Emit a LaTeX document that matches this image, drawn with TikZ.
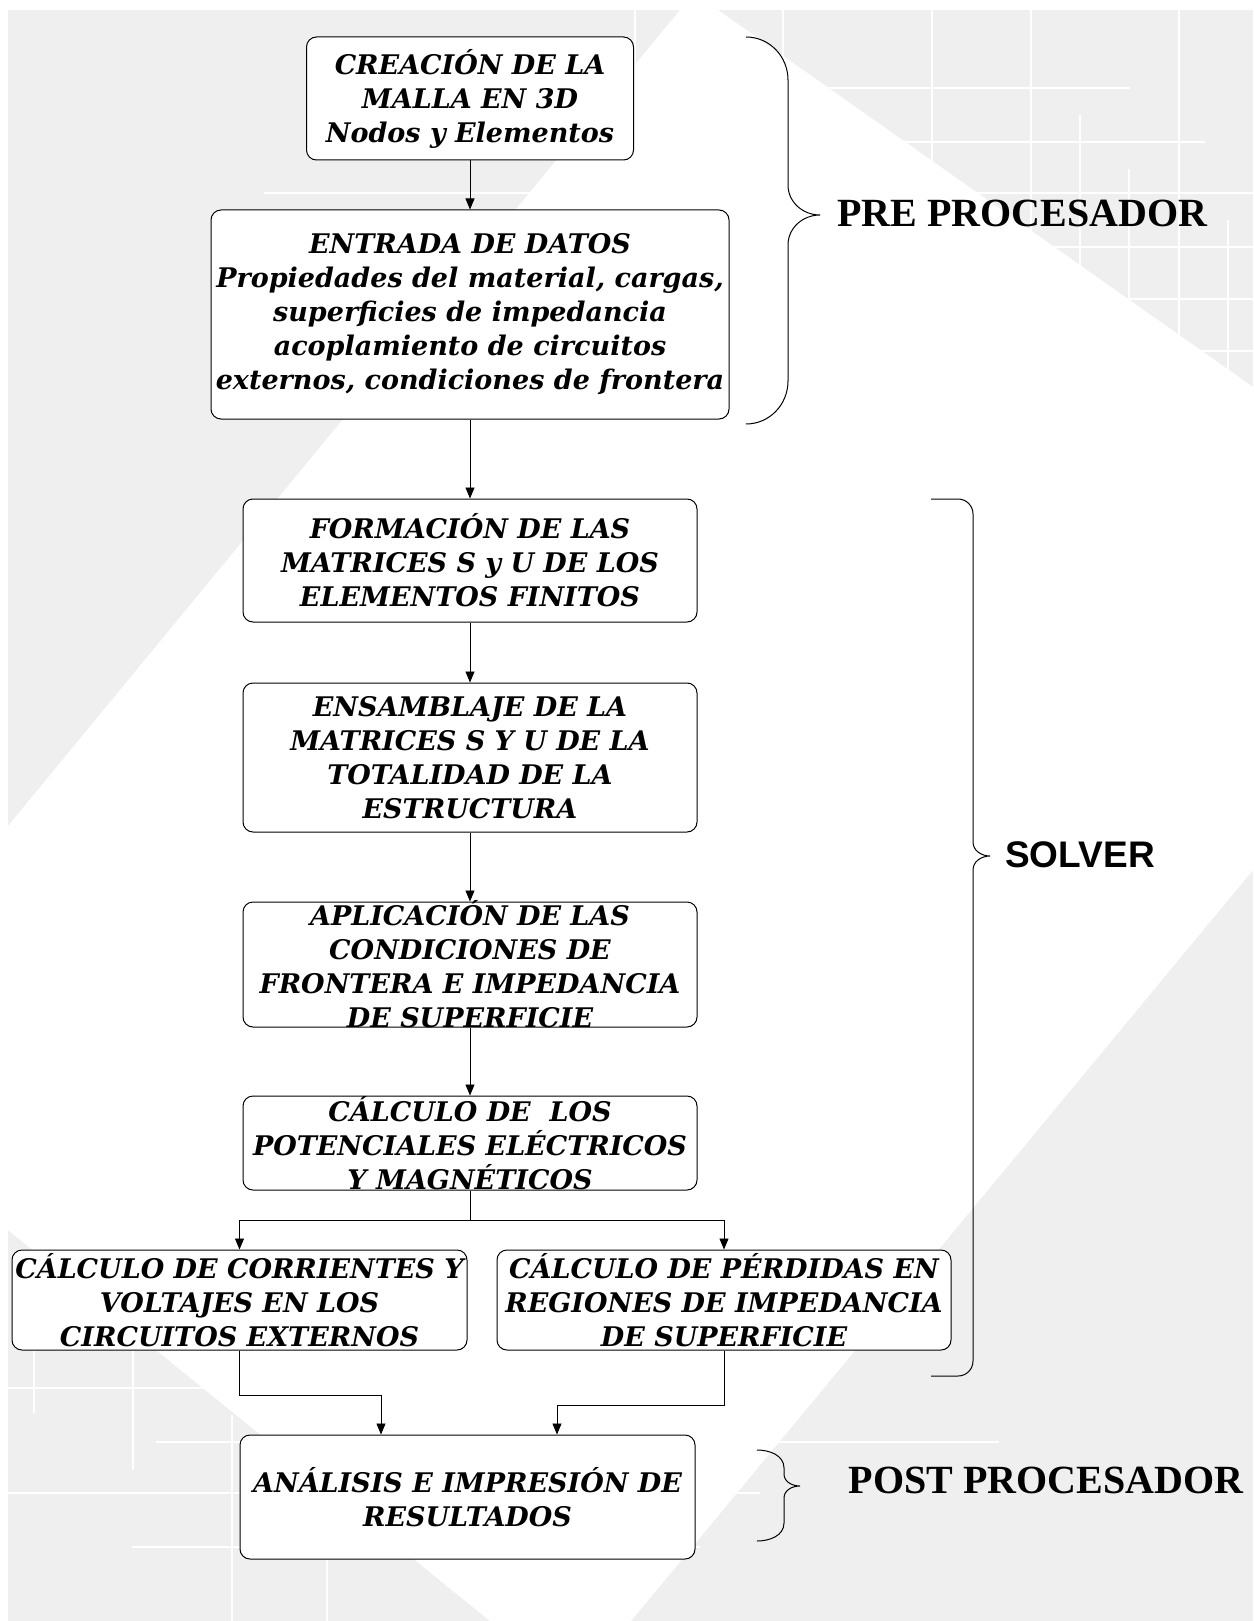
\documentclass[tikz,border=0pt]{standalone}
\usepackage{fontspec}
\setmainfont{DejaVu Serif}
\newfontfamily\phasefont{Liberation Serif}
\newfontfamily\solverfont{Liberation Sans}
\usetikzlibrary{calc}
\usetikzlibrary{arrows.meta}
\definecolor{bggray}{RGB}{239,239,239}

\begin{document}
\begin{tikzpicture}[%
  x=1pt, y=-1pt,
  >={Triangle[width=9pt,length=11pt]},
  box/.style={draw, line width=1pt, rounded corners=10pt, fill=white,
    align=center, inner xsep=0pt, inner ysep=-6pt,
    font=\fontsize{27}{34}\selectfont\bfseries\itshape},
  arr/.style={->, line width=0.9pt},
  gridline/.style={white, line width=1.5pt},
  brace/.style={line width=1pt},
  phase/.style={font=\phasefont\fontsize{40}{44}\selectfont\bfseries},
]

  \useasboundingbox (0,0) rectangle (1253,1621);

  % fondo
  \fill[bggray] (8,10) rectangle (1253,1621);
  \foreach \yy/\xa/\xb in {88/700/1130, 142/600/1205, 193/264/1253, 247/700/1253,
      299/700/1253, 351/700/1253, 404/700/1253,
      1388/8/823, 1442/156/999, 1493/8/760, 1547/132/700}
    \draw[gridline] (\xa,\yy) -- (\xb,\yy);
  \foreach \xx/\ya/\yb in {635/10/67, 783/10/120, 932/10/450, 1031/10/450,
      1080/115/450, 1129/169/450, 1179/10/450, 1228/220/450,
      34/1347/1413, 133/1340/1470, 232/1415/1621, 327/1560/1621}
    \draw[gridline] (\xx,\ya) -- (\xx,\yb);
  \fill[white] (680,10) -- (718,10) -- (1253,387) -- (1253,870) -- (631,1621)
    -- (490,1621) -- (8,1230) -- (8,826) -- cycle;

  % cajas
  \node[box, minimum width=327pt, minimum height=123pt] (crea) at (470,98.5)
    {CREACIÓN DE LA\\MALLA EN 3D\\Nodos y Elementos};
  \node[box, minimum width=518pt, minimum height=209pt] (datos) at (470,314.5)
    {ENTRADA DE DATOS\\Propiedades del material, cargas,\\superficies de impedancia\\
     acoplamiento de circuitos\\externos, condiciones de frontera};
  \node[box, minimum width=454pt, minimum height=123pt] (forma) at (470,560.5)
    {FORMACIÓN DE LAS\\MATRICES S y U DE LOS\\ELEMENTOS FINITOS};
  \node[box, minimum width=454pt, minimum height=149pt] (ensam) at (470,757.5)
    {ENSAMBLAJE DE LA\\MATRICES S Y U DE LA\\TOTALIDAD DE LA\\ESTRUCTURA};
  \node[box, minimum width=454pt, minimum height=125pt] (aplic) at (470,964.5)
    {APLICACIÓN DE LAS\\CONDICIONES DE\\FRONTERA E IMPEDANCIA\\DE SUPERFICIE};
  \node[box, minimum width=454pt, minimum height=94pt] (poten) at (470,1143)
    {CÁLCULO DE\ \ LOS\\POTENCIALES ELÉCTRICOS\\Y MAGNÉTICOS};
  \node[box, minimum width=455pt, minimum height=100pt] (corri) at (239.5,1300)
    {CÁLCULO DE CORRIENTES Y\\VOLTAJES EN LOS\\CIRCUITOS EXTERNOS};
  \node[box, minimum width=454pt, minimum height=100pt] (perdi) at (724,1300)
    {CÁLCULO DE PÉRDIDAS EN\\REGIONES DE IMPEDANCIA\\DE SUPERFICIE};
  \node[box, minimum width=455pt, minimum height=124pt] (resul) at (467.5,1497)
    {ANÁLISIS E IMPRESIÓN DE\\RESULTADOS};

  % flechas
  \draw[arr] (crea) -- (datos);
  \draw[arr] (datos) -- (forma);
  \draw[arr] (forma) -- (ensam);
  \draw[arr] (ensam) -- (aplic);
  \draw[arr] (aplic) -- (poten);
  \coordinate (split) at (470,1220);
  \draw[line width=0.9pt] (poten.south) -- (split);
  \draw[arr] (split) -| (corri.north);
  \draw[arr] (split) -| (perdi.north);
  \coordinate (mL) at (381,1395);
  \coordinate (mR) at (557,1405);
  \draw[arr] (corri.south) |- (mL) -- (mL |- resul.north);
  \draw[arr] (perdi.south) |- (mR) -- (mR |- resul.north);

  % llaves
  \draw[brace] (746,37) to[out=0,in=90] (788,80) -- (788,185)
    to[out=-90,in=180] (820,215) to[out=180,in=90] (788,245) -- (788,381)
    to[out=-90,in=0] (746,424);
  \draw[brace] (931,499) -- (958,499) to[out=0,in=90] (973,514) -- (973,842)
    to[out=-90,in=180] (990,856) to[out=180,in=90] (973,870) -- (973,1361)
    to[out=-90,in=0] (958,1376) -- (931,1376);
  \draw[brace] (757,1450) to[out=0,in=90] (784,1468) -- (784,1474)
    to[out=-90,in=180] (800,1486) to[out=180,in=90] (784,1498) -- (784,1523)
    to[out=-90,in=0] (757,1541);

  \node[phase] (pre) at (1022,213) {PRE PROCESADOR};
  \node[font=\solverfont\fontsize{37}{40}\selectfont\bfseries] (solver) at (1080,855) {SOLVER};
  \node[phase] (post) at (1046,1480) {POST PROCESADOR};

\end{tikzpicture}
\end{document}
